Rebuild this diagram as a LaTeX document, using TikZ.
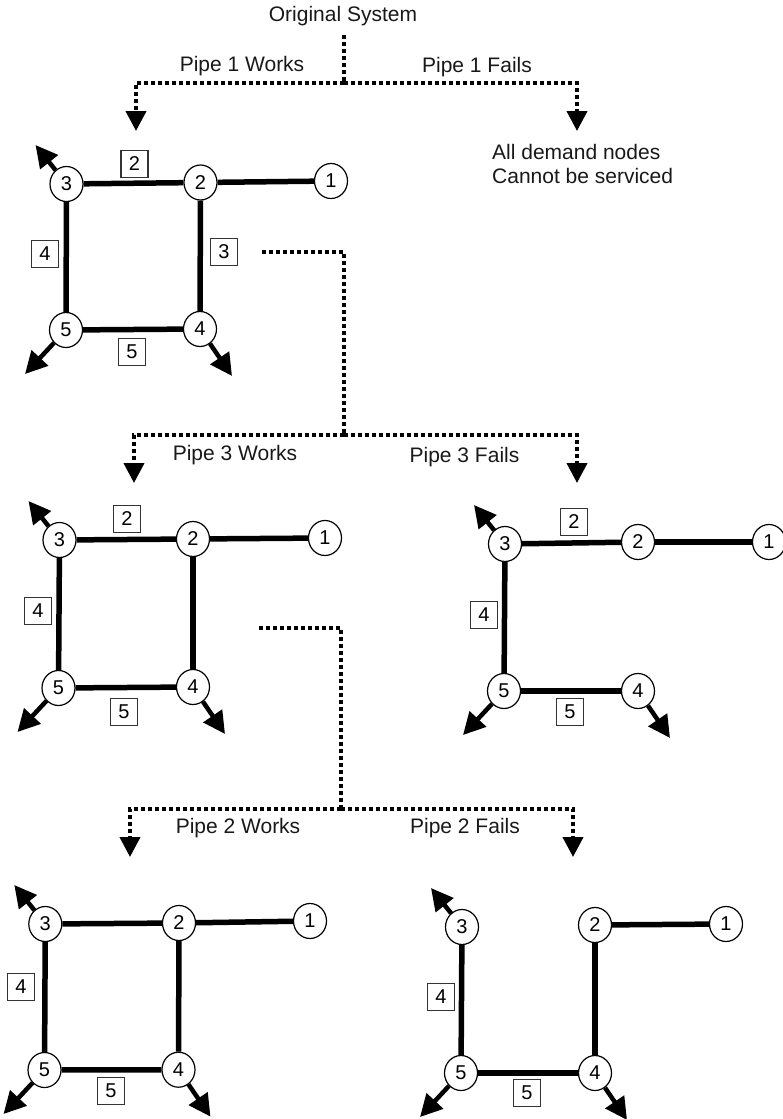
\documentclass[tikz,border=0pt]{standalone}
\usepackage{fontspec}
\setmainfont{Liberation Sans}
\usetikzlibrary{arrows.meta,shapes.geometric}
\tikzset{
  junction/.style={ellipse,draw=black,line width=1.2pt,fill=white,minimum width=33pt,minimum height=35pt,inner sep=0pt,font=\fontsize{20}{22}\selectfont},
  pipelabel/.style={draw=black!80,line width=1.2pt,fill=white,minimum size=27pt,inner sep=0pt,font=\fontsize{20}{22}\selectfont},
  caption/.style={inner sep=0pt,text=black!90,font=\fontsize{21}{24.5}\selectfont},
  pipe/.style={line width=5.5pt},
  demand/.style={line width=4.5pt,-{Triangle[length=22pt,width=22pt]}},
  branch/.style={line width=4pt,dash pattern=on 4pt off 3pt},
  brancharrow/.style={branch,-{Triangle[length=20pt,width=20pt]}}
}
% prefix, then centres of junctions 3,2,1,5,4
\newcommand{\junctions}[6]{%
  \node[junction] (#1n3) at (#2) {3};
  \node[junction] (#1n2) at (#3) {2};
  \node[junction] (#1n1) at (#4) {1};
  \node[junction] (#1n5) at (#5) {5};
  \node[junction] (#1n4) at (#6) {4};
  \coordinate (#1t3) at ([shift={(-31,-39)}]#1n3.center);
  \coordinate (#1t5) at ([shift={(-41,44)}]#1n5.center);
  \coordinate (#1t4) at ([shift={(32,47)}]#1n4.center);
  \draw[demand] (#1n3) -- (#1t3);
  \draw[demand] (#1n5) -- (#1t5);
  \draw[demand] (#1n4) -- (#1t4);
  \draw[pipe] (#1n2) -- (#1n1);
  \draw[pipe] (#1n3) -- (#1n5);
  \draw[pipe] (#1n5) -- (#1n4);
}
\begin{document}
\begin{tikzpicture}[x=1pt,y=-1pt]
\useasboundingbox[fill=white] (0,0) rectangle (783,1119);

% panel A
\junctions{a}{66.5,184}{200.5,182.5}{331,181}{66,330}{200,329}
\draw[pipe] (an3) -- (an2);
\draw[pipe] (an2) -- (an4);
\node[pipelabel] (al2) at (134.5,164) {2};
\node[pipelabel] (al3) at (224,252) {3};
\node[pipelabel] (al4) at (45,254) {4};
\node[pipelabel] (al5) at (132,352) {5};

% panel B
\junctions{b}{59.5,540}{193,539}{325,538}{58.5,688}{193,687}
\draw[pipe] (bn3) -- (bn2);
\draw[pipe] (bn2) -- (bn4);
\node[pipelabel] (bl2) at (127,519) {2};
\node[pipelabel] (bl4) at (38,611) {4};
\node[pipelabel] (bl5) at (124,712) {5};

% panel C
\junctions{c}{505,544}{638,542}{769,542}{504,691}{638,691}
\draw[pipe] (cn3) -- (cn2);
\node[pipelabel] (cl2) at (574,522) {2};
\node[pipelabel] (cl4) at (484,615) {4};
\node[pipelabel] (cl5) at (570,712) {5};

% panel D
\junctions{d}{45.3,924}{179,923}{310,921}{44.5,1070}{178.5,1069.7}
\draw[pipe] (dn3) -- (dn2);
\draw[pipe] (dn2) -- (dn4);
\node[pipelabel] (dl4) at (21,987) {4};
\node[pipelabel] (dl5) at (111,1091) {5};

% panel E
\junctions{e}{462,927}{595,925}{726,924}{461,1073}{595,1073}
\draw[pipe] (en2) -- (en4);
\node[pipelabel] (el4) at (441,997) {4};
\node[pipelabel] (el5) at (527,1093) {5};

% texts
\node[caption] (t0) at (343,16.5) {Original System};
\node[caption] (t1w) at (242,66) {Pipe 1 Works};
\node[caption] (t1f) at (477,67) {Pipe 1 Fails};
\node[caption,align=left,anchor=west] (tall) at (492,164) {All demand nodes\\Cannot be serviced};
\node[caption] (t3w) at (235,455) {Pipe 3 Works};
\node[caption] (t3f) at (464.5,457) {Pipe 3 Fails};
\node[caption] (t2w) at (238,828) {Pipe 2 Works};
\node[caption] (t2f) at (465,828) {Pipe 2 Fails};

% first branching
\coordinate (s1) at (344,35);
\coordinate (j1) at (344,83);
\coordinate (l1) at (136,83);
\coordinate (r1) at (577,83);
\coordinate (al) at (136,131);
\coordinate (ar) at (577,131);
\draw[branch] (s1) -- (j1);
\draw[brancharrow] (j1) -- (l1) -- (al);
\draw[brancharrow] (j1) -- (r1) -- (ar);

% second branching
\coordinate (s2) at (262,252);
\coordinate (c2) at (344,252);
\coordinate (j2) at (344,435);
\coordinate (l2) at (134,435);
\coordinate (r2) at (577,435);
\coordinate (bl) at (134,483);
\coordinate (br) at (577,483);
\draw[branch] (s2) -- (c2) -- (j2);
\draw[brancharrow] (j2) -- (l2) -- (bl);
\draw[brancharrow] (j2) -- (r2) -- (br);

% third branching
\coordinate (s3) at (259,628);
\coordinate (c3) at (341,628);
\coordinate (j3) at (341,809);
\coordinate (l3) at (130,809);
\coordinate (r3) at (573,809);
\coordinate (dl) at (130,857);
\coordinate (dr) at (573,857);
\draw[branch] (s3) -- (c3) -- (j3);
\draw[brancharrow] (j3) -- (l3) -- (dl);
\draw[brancharrow] (j3) -- (r3) -- (dr);
\end{tikzpicture}
\end{document}
